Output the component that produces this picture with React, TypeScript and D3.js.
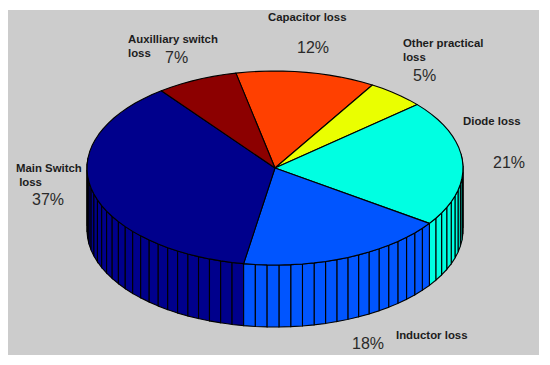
import React from 'react';
import * as d3 from 'd3';

// clockwise from the capacitor slice, same order as the picture
const categories = ['Capacitor', 'Other', 'Diode', 'Inductor', 'Main', 'Auxilliary'];
const losses = [12, 5, 21, 18, 37, 7];
const colors = ['#ff4000', '#eaff00', '#00ffe2', '#0055ff', '#00008c', '#8c0000'];

const captions = [
  { lines: ['Capacitor loss'], x: 268, y: 21 },
  { lines: ['Auxilliary switch', 'loss'], x: 128, y: 43 },
  { lines: ['Other practical', 'loss'], x: 403, y: 47 },
  { lines: ['Diode loss'], x: 463, y: 125 },
  { lines: ['Main Switch', ' loss'], x: 16, y: 172 },
  { lines: ['Inductor loss'], x: 396, y: 339 },
];
const percents = [
  { text: '12%', x: 297, y: 53 },
  { text: '7%', x: 165, y: 63 },
  { text: '5%', x: 413, y: 81 },
  { text: '21%', x: 493, y: 168 },
  { text: '37%', x: 32, y: 205 },
  { text: '18%', x: 352, y: 349 },
];

const cx = 275;
const cy = 168;
const rx = 188;
const ry = 97;
const depth = 62;
const deg = Math.PI / 180;

// unit circle -> screen
const xScale = d3.scaleLinear().domain([-1, 1]).range([cx - rx, cx + rx]);
const yScale = d3.scaleLinear().domain([-1, 1]).range([cy - ry, cy + ry]);

const pie = d3.pie<number>().sort(null).startAngle(-12 * deg).endAngle(348 * deg);
const slices = pie(losses);
const toXY = (a: number): [number, number] => [xScale(Math.sin(a)), yScale(-Math.cos(a))];
const line = d3.line();

export default function App() {
  const tops: React.ReactNode[] = [];
  const facets: { key: string; y: number; d: string; fill: string }[] = [];

  slices.forEach((s, i) => {
    // one facet per percent, like the pie3 mesh
    const n = losses[i];
    const angles = d3.range(n + 1).map((k) => s.startAngle + ((s.endAngle - s.startAngle) * k) / n);
    const rim = angles.map(toXY);
    tops.push(
      <path
        key={categories[i]}
        d={line([[cx, cy], ...rim])! + 'Z'}
        fill={colors[i]}
        stroke="#000"
        strokeWidth={1.1}
        strokeLinejoin="round"
      />
    );
    for (let k = 0; k < n; k++) {
      const a = rim[k];
      const b = rim[k + 1];
      const mid = (angles[k] + angles[k + 1]) / 2;
      // keep the front half, plus the facets just behind each end for the dark edge
      if (Math.cos(mid) > 0.12) continue;
      facets.push({
        key: `${categories[i]}-${k}`,
        y: Math.max(a[1], b[1]),
        d: line([a, b, [b[0], b[1] + depth], [a[0], a[1] + depth]])! + 'Z',
        fill: colors[i],
      });
    }
  });
  facets.sort((p, q) => p.y - q.y);

  return (
    <svg width={550} height={365} style={{ position: 'absolute', left: 0, top: 0 }}>
      <rect x={8} y={10} width={531} height={345} fill="#cccccc" />
      {facets.map((f) => (
        <path key={f.key} d={f.d} fill={f.fill} stroke="#000" strokeWidth={1.1} />
      ))}
      {tops}
      <g fontFamily="Liberation Sans, Arial, sans-serif" fill="#1c1c1c">
        {captions.map((c) => (
          <text key={c.lines[0]} fontSize={11.4} fontWeight="bold" style={{ whiteSpace: 'pre' }}>
            {c.lines.map((l, i) => (
              <tspan key={i} x={c.x} y={c.y + i * 14}>
                {l}
              </tspan>
            ))}
          </text>
        ))}
        {percents.map((p) => (
          <text key={p.text} x={p.x} y={p.y} fontSize={16} fill="#2a2a2a">
            {p.text}
          </text>
        ))}
      </g>
    </svg>
  );
}
